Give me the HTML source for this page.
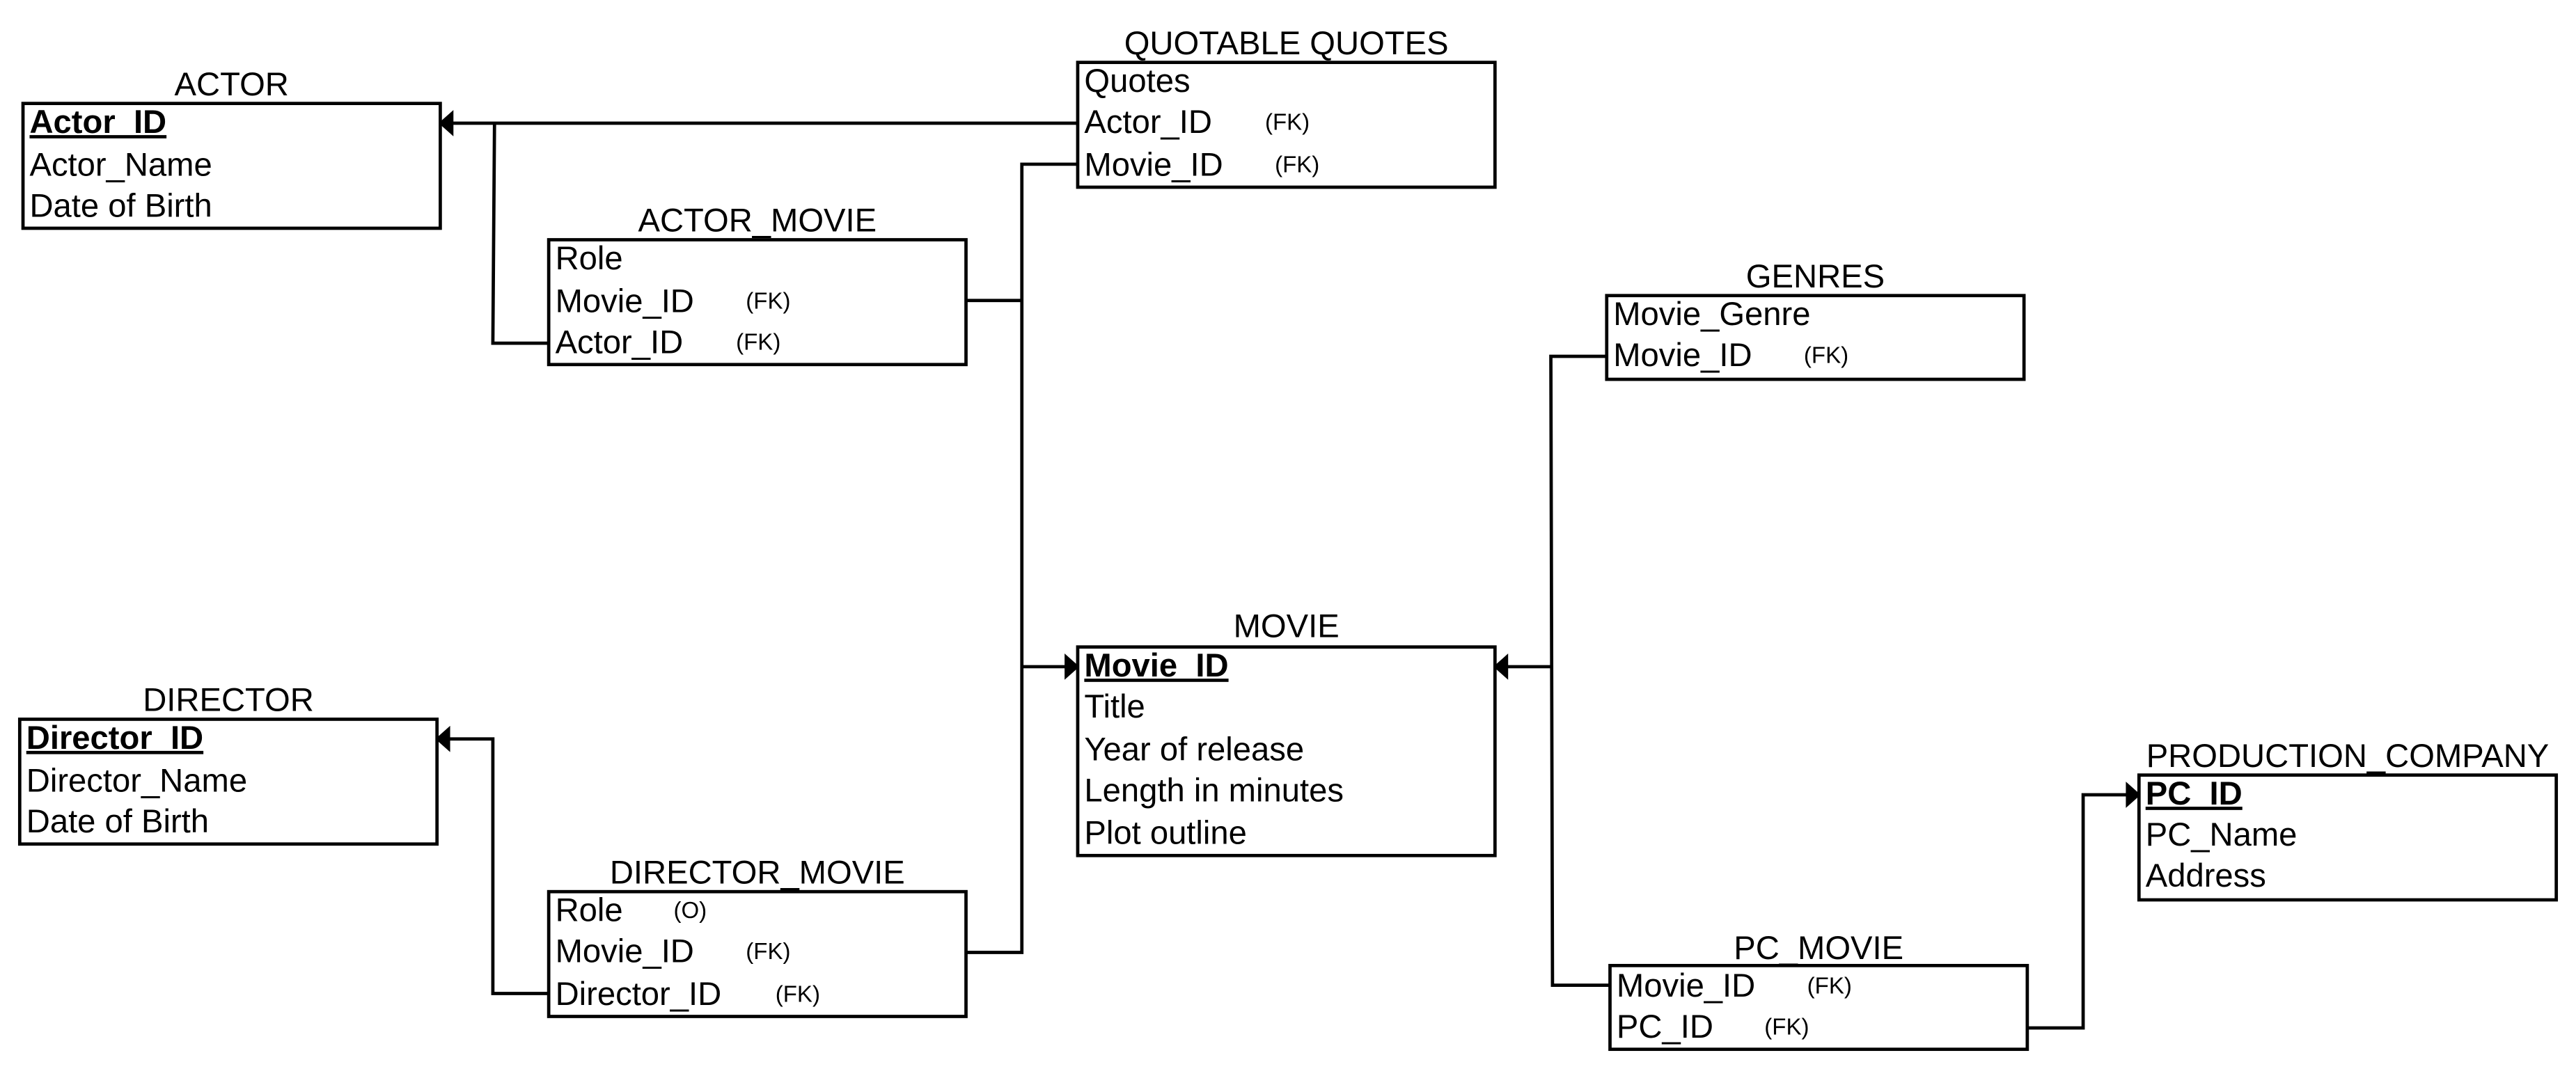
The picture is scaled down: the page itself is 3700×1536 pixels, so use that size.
<!DOCTYPE html>
<html><head><meta charset="utf-8"><style>
html,body{margin:0;padding:0;background:#fff;}
svg{display:block;}
text{font-family:"Liberation Sans",sans-serif;fill:#000;}
.t{font-size:20px;}
.h{font-size:20px;text-anchor:middle;}
.f{font-size:14px;}
.b{font-weight:bold;text-decoration:underline;}
rect{fill:#fff;stroke:#000;stroke-width:2;}
path.l{fill:none;stroke:#000;stroke-width:2;}
</style></head><body>
<svg width="3700" height="1536" viewBox="0 0 1568 651" preserveAspectRatio="none" xmlns="http://www.w3.org/2000/svg">
<path class="l" d="M656 75 H270"/>
<path class="l" d="M301 75 L300 209 H334"/>
<path class="l" d="M588 183 H622"/>
<path class="l" d="M656 100 H622 V580 H588"/>
<path class="l" d="M622 406 H652"/>
<path class="l" d="M978 217 H944 L945 600 H980"/>
<path class="l" d="M944 406 H914"/>
<path class="l" d="M266 450 H300 V605 H334"/>
<path class="l" d="M1234 626 H1268 V484 H1298"/>
<polygon points="267,75 276,67 276,83"/>
<polygon points="265,450 274,442 274,458"/>
<polygon points="657,406 648,398 648,414"/>
<polygon points="909,406 918,398 918,414"/>
<polygon points="1303,484 1294,476 1294,492"/>

<text class="h" x="141" y="58">ACTOR</text>
<rect x="14" y="63" width="254" height="76"/>
<text class="t b" x="18" y="81">Actor_ID</text>
<text class="t" x="18" y="107">Actor_Name</text>
<text class="t" x="18" y="132">Date of Birth</text>

<text class="h" x="461" y="141">ACTOR_MOVIE</text>
<rect x="334" y="146" width="254" height="76"/>
<text class="t" x="338" y="164">Role</text>
<text class="t" x="338" y="190">Movie_ID</text><text class="f" x="454" y="188">(FK)</text>
<text class="t" x="338" y="215">Actor_ID</text><text class="f" x="448" y="213">(FK)</text>

<text class="h" x="783" y="33">QUOTABLE QUOTES</text>
<rect x="656" y="38" width="254" height="76"/>
<text class="t" x="660" y="56">Quotes</text>
<text class="t" x="660" y="81">Actor_ID</text><text class="f" x="770" y="79">(FK)</text>
<text class="t" x="660" y="107">Movie_ID</text><text class="f" x="776" y="105">(FK)</text>

<text class="h" x="783" y="388">MOVIE</text>
<rect x="656" y="394" width="254" height="127"/>
<text class="t b" x="660" y="412">Movie_ID</text>
<text class="t" x="660" y="437">Title</text>
<text class="t" x="660" y="463">Year of release</text>
<text class="t" x="660" y="488">Length in minutes</text>
<text class="t" x="660" y="514">Plot outline</text>

<text class="h" x="139" y="433">DIRECTOR</text>
<rect x="12" y="438" width="254" height="76"/>
<text class="t b" x="16" y="456">Director_ID</text>
<text class="t" x="16" y="482">Director_Name</text>
<text class="t" x="16" y="507">Date of Birth</text>

<text class="h" x="461" y="538">DIRECTOR_MOVIE</text>
<rect x="334" y="543" width="254" height="76"/>
<text class="t" x="338" y="561">Role</text><text class="f" x="410" y="559">(O)</text>
<text class="t" x="338" y="586">Movie_ID</text><text class="f" x="454" y="584">(FK)</text>
<text class="t" x="338" y="612">Director_ID</text><text class="f" x="472" y="610">(FK)</text>

<text class="h" x="1105" y="175">GENRES</text>
<rect x="978" y="180" width="254" height="51"/>
<text class="t" x="982" y="198">Movie_Genre</text>
<text class="t" x="982" y="223">Movie_ID</text><text class="f" x="1098" y="221">(FK)</text>

<text class="h" x="1107" y="584">PC_MOVIE</text>
<rect x="980" y="588" width="254" height="51"/>
<text class="t" x="984" y="607">Movie_ID</text><text class="f" x="1100" y="605">(FK)</text>
<text class="t" x="984" y="632">PC_ID</text><text class="f" x="1074" y="630">(FK)</text>

<text class="h" x="1429" y="467">PRODUCTION_COMPANY</text>
<rect x="1302" y="472" width="254" height="76"/>
<text class="t b" x="1306" y="490">PC_ID</text>
<text class="t" x="1306" y="515">PC_Name</text>
<text class="t" x="1306" y="540">Address</text>
</svg>
</body></html>
